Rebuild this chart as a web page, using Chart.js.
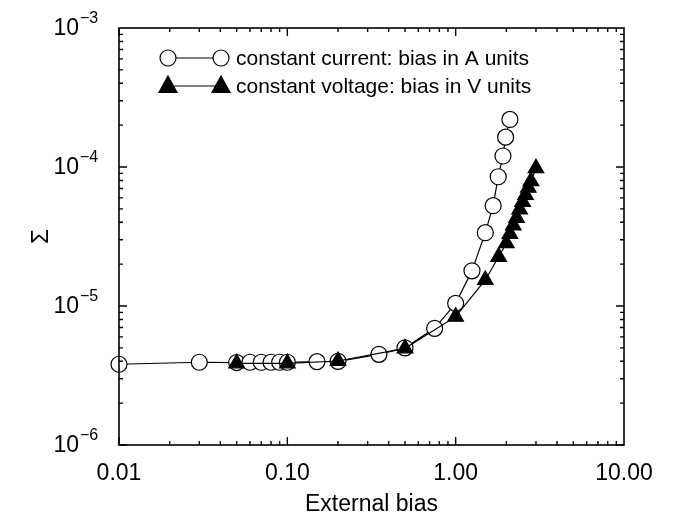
<!DOCTYPE html>
<html><head><meta charset="utf-8">
<script src="https://cdn.jsdelivr.net/npm/chart.js@4/dist/chart.umd.min.js"></script>
<style>html,body{margin:0;padding:0;background:#fff}</style>
</head><body>
<canvas id="c" width="684" height="517"></canvas>
<script>
// ---- data ----
const currentBias  = [0.01, 0.03, 0.05, 0.06, 0.07, 0.08, 0.09, 0.10, 0.15, 0.20, 0.35, 0.50, 0.75, 1.00, 1.25, 1.50, 1.67, 1.79, 1.91, 1.98, 2.10];
const currentSigma = [3.81e-6, 3.94e-6, 3.92e-6, 3.94e-6, 3.94e-6, 3.94e-6, 3.94e-6, 3.94e-6, 3.98e-6, 4.00e-6, 4.49e-6, 5.00e-6, 6.91e-6, 1.045e-5, 1.79e-5, 3.37e-5, 5.27e-5, 8.51e-5, 1.20e-4, 1.64e-4, 2.20e-4];
const voltageBias  = [0.05, 0.10, 0.20, 0.50, 1.00, 1.50, 1.80, 2.00, 2.10, 2.20, 2.30, 2.40, 2.50, 2.60, 2.70, 2.80, 3.00];
const voltageSigma = [3.87e-6, 3.87e-6, 4.02e-6, 4.96e-6, 8.38e-6, 1.54e-5, 2.26e-5, 2.83e-5, 3.30e-5, 3.80e-5, 4.30e-5, 4.95e-5, 5.60e-5, 6.30e-5, 7.10e-5, 7.90e-5, 9.80e-5];
const seriesLabels = ['constant current: bias in A units', 'constant voltage: bias in V units'];
const xTickValues = [0.01, 0.1, 1, 10];
const xTickLabels = ['0.01', '0.10', '1.00', '10.00'];
const yTickValues = [1e-6, 1e-5, 1e-4, 1e-3];
const yTickExponents = ['\u22126', '\u22125', '\u22124', '\u22123'];
const xTitle = 'External bias';
const yTitle = '\u03A3';

const FONT = 'Liberation Sans, Arial, Helvetica, sans-serif';

const frame = {
  id: 'frame',
  afterDraw(chart) {
    const ctx = chart.ctx, a = chart.chartArea;
    const xs = chart.scales.x, ys = chart.scales.y;
    ctx.save();
    ctx.strokeStyle = '#000';
    ctx.lineWidth = 1.6;
    ctx.strokeRect(a.left, a.top, a.right - a.left, a.bottom - a.top);
    ctx.lineWidth = 1.4;
    const minor = [2,3,4,5,6,7,8,9];
    for (let d = 0.01; d < 10 * 0.99; d *= 10) {
      [1, ...minor].forEach(m => {
        const px = xs.getPixelForValue(d * m);
        const len = m === 1 ? 8 : 4;
        ctx.beginPath();
        ctx.moveTo(px, a.bottom); ctx.lineTo(px, a.bottom - len);
        ctx.moveTo(px, a.top); ctx.lineTo(px, a.top + len);
        ctx.stroke();
      });
    }
    for (let d = 1e-6; d < 1e-3 * 0.99; d *= 10) {
      [1, ...minor].forEach(m => {
        const py = ys.getPixelForValue(d * m);
        const len = m === 1 ? 8 : 4;
        ctx.beginPath();
        ctx.moveTo(a.left, py); ctx.lineTo(a.left + len, py);
        ctx.moveTo(a.right, py); ctx.lineTo(a.right - len, py);
        ctx.stroke();
      });
    }
    // y tick labels with superscript exponent
    ctx.fillStyle = '#000';
    ctx.textBaseline = 'middle';
    yTickValues.forEach((v, i) => {
      const py = ys.getPixelForValue(v);
      ctx.font = '23px ' + FONT;
      ctx.textAlign = 'right';
      ctx.fillText('10', 79, py + 1);
      ctx.font = '16px ' + FONT;
      ctx.textAlign = 'left';
      ctx.fillText(yTickExponents[i], 80, py - 9);
    });
    // legend
    const ds = chart.data.datasets;
    const rows = [{i: 1, y: 58}, {i: 0, y: 86}];
    rows.forEach(r => {
      const d = ds[r.i];
      ctx.strokeStyle = '#000';
      ctx.lineWidth = 1.2;
      ctx.beginPath(); ctx.moveTo(168, r.y); ctx.lineTo(221, r.y); ctx.stroke();
      [168, 221].forEach(cx => {
        ctx.fillStyle = d.pointBackgroundColor;
        ctx.strokeStyle = d.pointBorderColor;
        ctx.lineWidth = 1.2;
        ctx.beginPath();
        if (d.pointStyle === 'circle') {
          ctx.arc(cx, r.y, d.pointRadius, 0, Math.PI * 2);
        } else {
          const rr = d.pointRadius;
          ctx.moveTo(cx, r.y - rr * 1.1);
          ctx.lineTo(cx + rr, r.y + rr * 0.7);
          ctx.lineTo(cx - rr, r.y + rr * 0.7);
          ctx.closePath();
        }
        ctx.fill(); ctx.stroke();
      });
      ctx.fillStyle = '#000';
      ctx.font = '21px ' + FONT;
      ctx.textAlign = 'left';
      ctx.textBaseline = 'middle';
      ctx.fillText(d.label, 236, r.y + 1);
    });
    ctx.restore();
  }
};

new Chart(document.getElementById('c'), {
  type: 'line',
  data: {
    datasets: [
      {
        label: seriesLabels[1],
        data: voltageBias.map((x, i) => ({x, y: voltageSigma[i]})),
        borderColor: '#000', borderWidth: 1.2,
        pointStyle: 'triangle', pointRadius: 9,
        pointBackgroundColor: '#000', pointBorderColor: '#000',
        tension: 0, fill: false, clip: false
      },
      {
        label: seriesLabels[0],
        data: currentBias.map((x, i) => ({x, y: currentSigma[i]})),
        borderColor: '#000', borderWidth: 1.2,
        pointStyle: 'circle', pointRadius: 8,
        pointBackgroundColor: '#fff', pointBorderColor: '#000', pointBorderWidth: 1.2,
        tension: 0, fill: false, clip: false
      }
    ]
  },
  options: {
    responsive: false,
    animation: false,
    devicePixelRatio: 1,
    layout: { padding: { top: 28, right: 60, left: 0, bottom: 0 } },
    plugins: { legend: { display: false }, tooltip: { enabled: false } },
    scales: {
      x: {
        type: 'logarithmic', min: 0.01, max: 10,
        grid: { display: false, drawTicks: false },
        border: { display: false },
        afterBuildTicks(s) { s.ticks = xTickValues.map(v => ({value: v})); },
        afterFit(s) { s.height = 72; },
        ticks: {
          autoSkip: false, maxRotation: 0, padding: 15,
          color: '#000', font: { family: FONT, size: 23 },
          callback(v) { const i = xTickValues.findIndex(t => Math.abs(t - v) < v * 1e-6); return i >= 0 ? xTickLabels[i] : ''; }
        },
        title: { display: true, text: xTitle, color: '#000', font: { family: FONT, size: 23 }, padding: { top: 0, bottom: -1 } }
      },
      y: {
        type: 'logarithmic', min: 1e-6, max: 1e-3,
        grid: { display: false, drawTicks: false },
        border: { display: false },
        afterFit(s) { s.width = 119; },
        ticks: { display: false },
        title: { display: true, text: yTitle, color: '#000', font: { family: FONT, size: 24 }, padding: { top: 27, bottom: 0 } }
      }
    }
  },
  plugins: [frame]
});
</script>
</body></html>
